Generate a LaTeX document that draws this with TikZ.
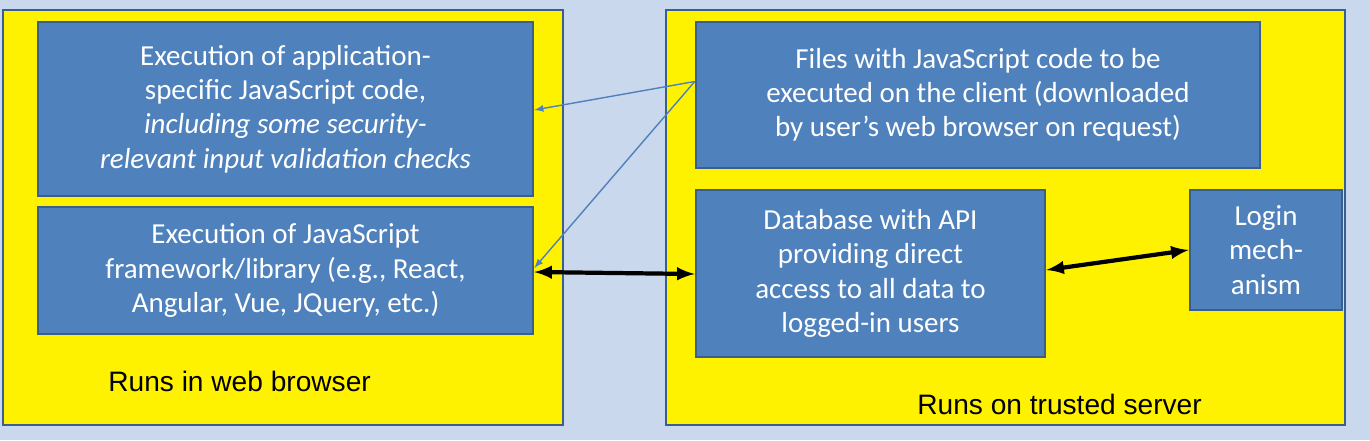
\documentclass[tikz,border=0pt]{standalone}
\usepackage{fontspec}
\setmainfont{Carlito}
\newfontfamily\arialfont{Liberation Sans}
\definecolor{bgblue}{HTML}{CAD8EE}
\definecolor{boxblue}{HTML}{4F81BD}
\definecolor{edgeblue}{HTML}{3A5F8E}
\definecolor{arrowblue}{HTML}{4F81BD}
\tikzset{
  zone/.style={draw=edgeblue, line width=1.5pt, fill=yellow},
  part/.style={draw=edgeblue, line width=1.5pt, fill=boxblue, text=white,
    align=center, inner sep=0pt, font=\fontsize{16.5}{19.5}\selectfont},
  zonelabel/.style={anchor=west, inner sep=0pt, font=\arialfont\fontsize{16}{19}\selectfont},
  thin link/.style={draw=arrowblue, line width=0.8pt, -latex},
  thick link/.style={line width=2.4pt, latex-latex}
}
\begin{document}
\begin{tikzpicture}[x=0.02cm, y=-0.02cm]
\fill[bgblue] (0,0) rectangle (1370,440);
\useasboundingbox (0,0) rectangle (1370,440);
\draw[zone] (3,10) rectangle (563,425);
\draw[zone] (666,10) rectangle (1345,425);
\node[part, minimum width=9.9cm, minimum height=3.48cm] (app) at (285.5,109)
  {Execution of application-\\specific JavaScript code,\\\textit{including some security-}\\\textit{relevant input validation checks}};
\node[part, minimum width=9.9cm, minimum height=2.54cm] (lib) at (285.5,270.5)
  {Execution of JavaScript\\framework/library (e.g., React,\\Angular, Vue, JQuery, etc.)};
\node[part, minimum width=11.28cm, minimum height=2.92cm] (files) at (978,95)
  {Files with JavaScript code to be\\executed on the client (downloaded\\by user’s web browser on request)};
\node[part, minimum width=6.98cm, minimum height=3.34cm] (db) at (870.5,273.5)
  {Database with API\\providing direct\\access to all data to\\logged-in users};
\node[part, minimum width=3.04cm, minimum height=2.4cm] (login) at (1266,250)
  {Login\\mech-\\anism};
\node[zonelabel] (browser) at (108,381) {Runs in web browser};
\node[zonelabel] (server) at (917,404) {Runs on trusted server};
\draw[thin link] ([yshift=0.27cm]files.west) -- ([yshift=-0.02cm]app.east);
\draw[thin link] ([yshift=0.27cm]files.west) -- ([yshift=0.05cm]lib.east);
\draw[thick link] ([yshift=-0.03cm]lib.east) -- ([yshift=-0.01cm]db.west);
\draw[thick link] ([yshift=0.07cm]db.east) -- (login.west);
\end{tikzpicture}
\end{document}
